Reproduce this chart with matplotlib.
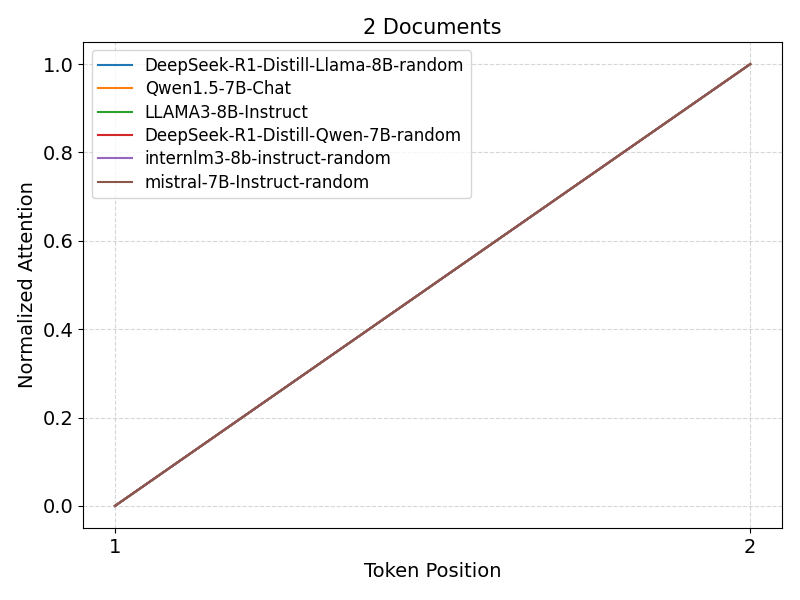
import numpy as np
import matplotlib.pyplot as plt

plt.rcParams['font.family'] = ['DejaVu Sans']

models = [
    "DeepSeek-R1-Distill-Llama-8B-random",
    "Qwen1.5-7B-Chat",
    "LLAMA3-8B-Instruct",
    "DeepSeek-R1-Distill-Qwen-7B-random",
    "internlm3-8b-instruct-random",
    "mistral-7B-Instruct-random",
]
positions = [1, 2]
attention = {
    "DeepSeek-R1-Distill-Llama-8B-random": [0.0, 1.0],
    "Qwen1.5-7B-Chat": [0.0, 1.0],
    "LLAMA3-8B-Instruct": [0.0, 1.0],
    "DeepSeek-R1-Distill-Qwen-7B-random": [0.0, 1.0],
    "internlm3-8b-instruct-random": [0.0, 1.0],
    "mistral-7B-Instruct-random": [0.0, 1.0],
}

fig, ax = plt.subplots(figsize=(8, 6), dpi=100)
for m in models:
    ax.plot(positions, attention[m], label=m)

ax.set_title("2 Documents", fontsize=15)
ax.set_xlabel("Token Position", fontsize=14)
ax.set_ylabel("Normalized Attention", fontsize=14)
ax.set_xticks(positions)
ax.tick_params(labelsize=14)
ax.grid(True, linestyle="--", alpha=0.5)
ax.legend(fontsize=12, loc="upper left", labelspacing=0.32)

plt.subplots_adjust(left=0.104, right=0.9775, top=0.93, bottom=0.12)
plt.savefig("out.png")
